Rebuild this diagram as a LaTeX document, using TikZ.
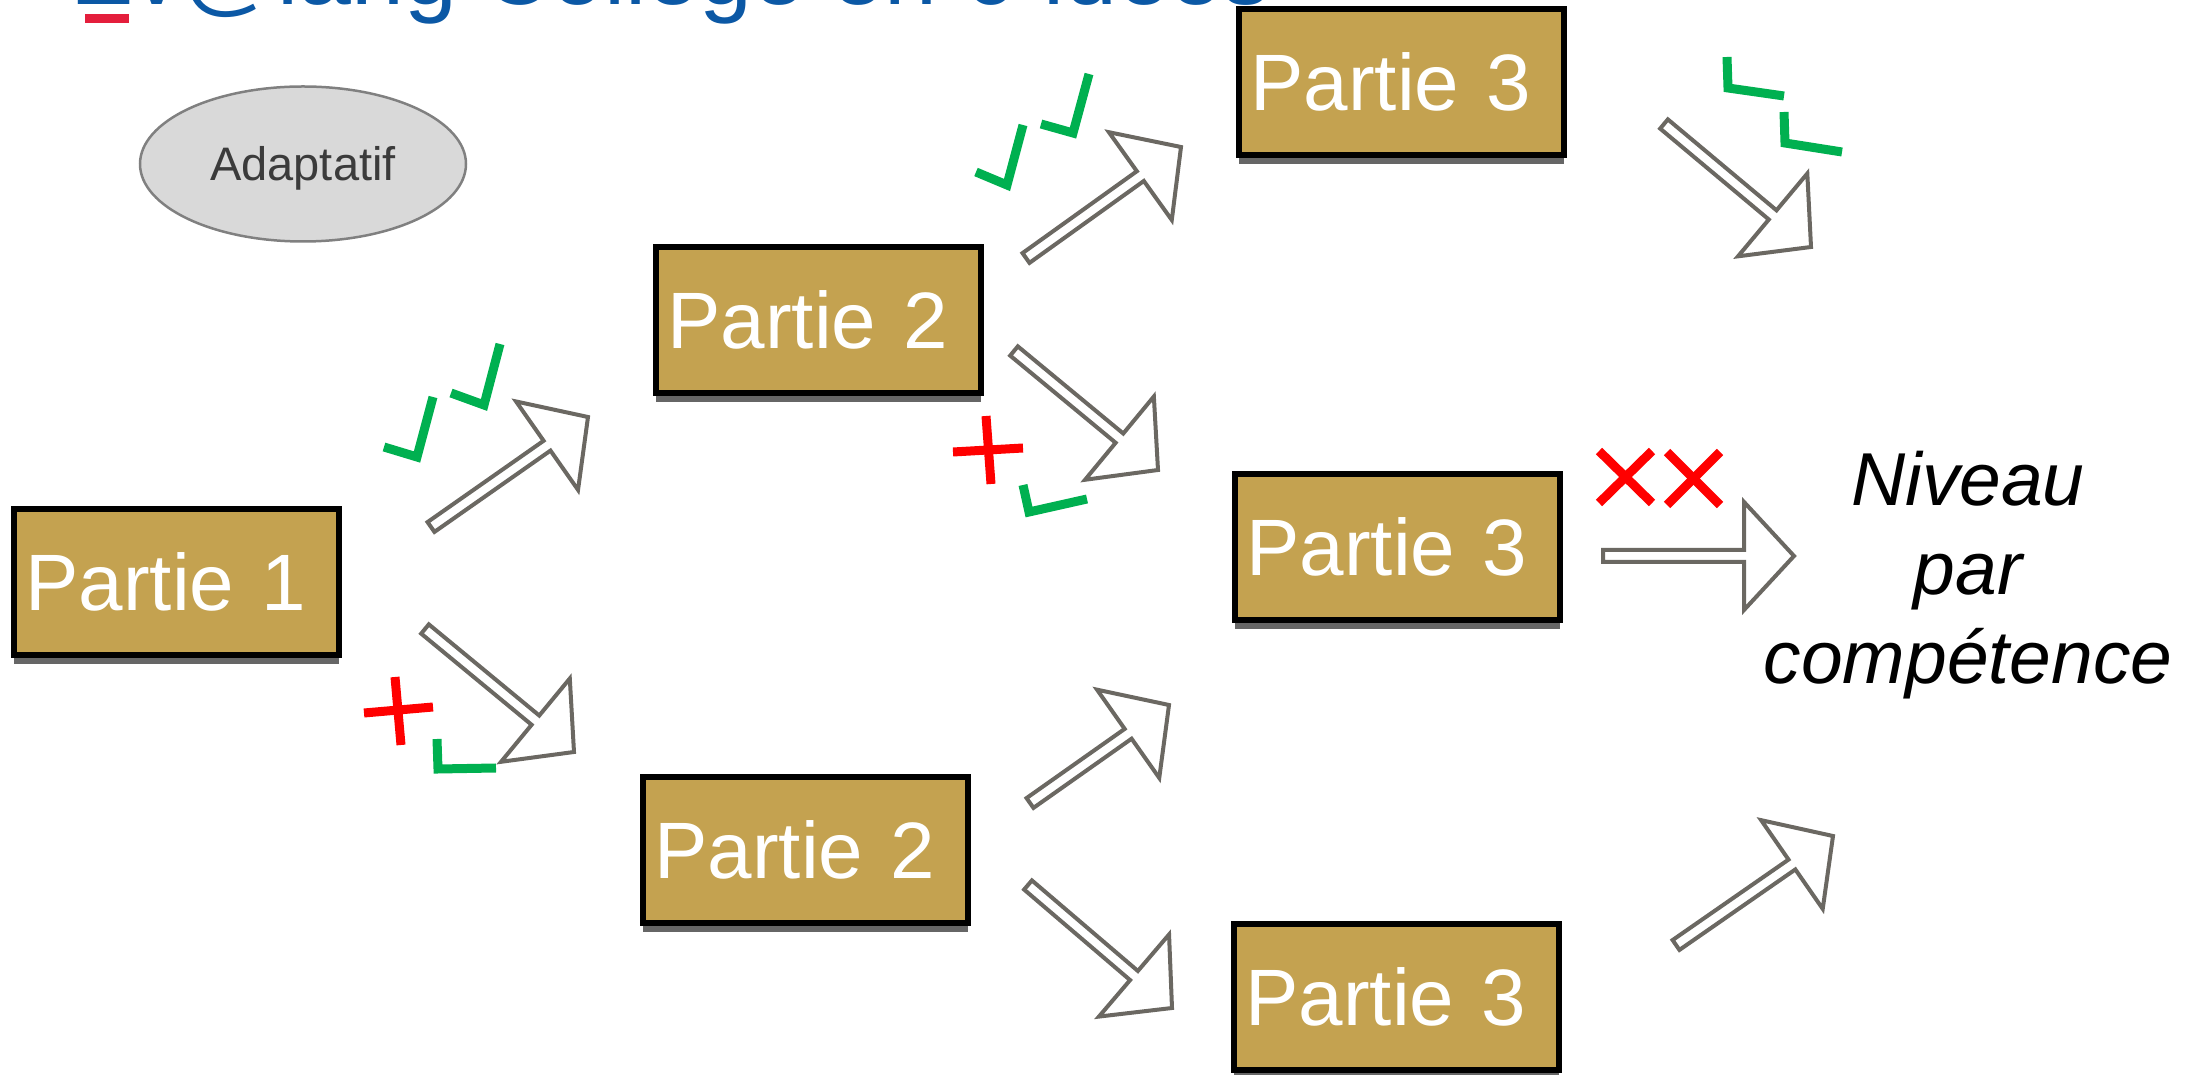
\documentclass[tikz,border=0pt]{standalone}
\usepackage{fontspec}
\setmainfont{Liberation Sans}
\usetikzlibrary{calc,shapes.geometric,shadows}
\definecolor{partgold}{RGB}{196,162,80}
\definecolor{arrowgray}{RGB}{107,104,98}
\definecolor{tickgreen}{RGB}{0,176,80}
\definecolor{titleblue}{RGB}{11,88,165}
\definecolor{flagred}{RGB}{228,30,60}
\definecolor{ovalgray}{RGB}{217,217,217}

\tikzset{
  partbox/.style={draw=black, line width=6pt, fill=partgold, text=white,
    minimum height=146pt, text width=301pt, inner xsep=12pt, inner ysep=0pt,
    align=left, font=\fontsize{80pt}{96pt}\selectfont, text height=57pt, text depth=0pt,
    drop shadow={shadow xshift=0pt, shadow yshift=-9pt, fill=black!60, opacity=1}},
  adaptoval/.style={ellipse, draw=black!50, line width=2.5pt, fill=ovalgray,
    minimum width=326pt, minimum height=155pt, inner sep=0pt, text=black!77,
    font=\fontsize{47pt}{56pt}\selectfont, text height=34pt, text depth=0pt},
  blockline/.style={draw=arrowgray, line width=4pt, fill=white},
  okmark/.style={draw=tickgreen, line width=9pt},
  nomark/.style={draw=red, line width=9pt},
}

% hollow block arrow from tail #1 to tip #2
\newcommand{\blockarrow}[2]{%
  \draw[blockline] let \p1=($(#2)-(#1)$), \n1={atan2(\y1,\x1)}, \n2={veclen(\x1,\y1)} in
    [shift={(#1)}, rotate=\n1]
    (0pt,-6pt) -- (\n2-50pt,-6pt) -- (\n2-50pt,-54pt) -- (\n2,0pt)
    -- (\n2-50pt,54pt) -- (\n2-50pt,6pt) -- (0pt,6pt) -- cycle;}

\begin{document}
\begin{tikzpicture}[x=1pt,y=1pt]
	\useasboundingbox (0,0) rectangle (2190,1074);
	\clip (0,0) rectangle (2190,1074);
	% title
	\node[anchor=base west, inner sep=0pt, text=titleblue, font=\fontsize{95pt}{110pt}\selectfont] (title) at (70,1069) {Ev@lang Collège en 6 idées};
	\fill[flagred] (85,1051) rectangle (129,1060);
	\node[adaptoval] (adapt) at (303,910) {Adaptatif};
	% parts
	\node[partbox] (part1) at (176,492) {Partie 1};
	\node[partbox] (part2a) at (818,754) {Partie 2};
	\node[partbox] (part2b) at (805,224) {Partie 2};
	\node[partbox] (part3a) at (1401,992) {Partie 3};
	\node[partbox] (part3b) at (1397,527) {Partie 3};
	\node[partbox] (part3c) at (1396,77) {Partie 3};
	\node[align=center, inner sep=0pt, font=\fontsize{75pt}{89pt}\selectfont\itshape] (niveau) at (1968,498.5) {Niveau\\par\\compétence};
	% arrow ends
	\coordinate (t1) at (431,547); \coordinate (h1) at (588,657);
	\coordinate (t2) at (425,445); \coordinate (h2) at (574,322);
	\coordinate (t3) at (1026,816); \coordinate (h3) at (1181,927);
	\coordinate (t4) at (1014,723); \coordinate (h4) at (1158,604);
	\coordinate (t5) at (1030,271); \coordinate (h5) at (1169,369);
	\coordinate (t6) at (1028,189); \coordinate (h6) at (1172,66);
	\coordinate (t7) at (1664,950); \coordinate (h7) at (1811,827);
	\coordinate (t8) at (1603,518); \coordinate (h8) at (1794,518);
	\coordinate (t9) at (1676,129); \coordinate (h9) at (1833,238);
	\foreach \k in {1,...,9} {\blockarrow{t\k}{h\k}}
	% marks
	\draw[okmark] (384,627) -- (417,617) -- (433,677);
	\draw[okmark] (451,681) -- (484,669) -- (500,730);
	\draw[nomark] (395,397) -- (401,329);
	\draw[nomark] (364,361) -- (433,367);
	\draw[okmark] (437,335) -- (438,305) -- (496,306);
	\draw[okmark] (976,902) -- (1007,889) -- (1023,949);
	\draw[okmark] (1041,950) -- (1073,941) -- (1089,1000);
	\draw[nomark] (986,658) -- (991,590);
	\draw[nomark] (953,622) -- (1023,626);
	\draw[okmark] (1023,589) -- (1029,562) -- (1087,575);
	\draw[okmark] (1727,1017) -- (1728,986) -- (1784,978);
	\draw[okmark] (1784,962) -- (1785,931) -- (1842,922);
	\draw[nomark] (1599,623) -- (1652,571);
	\draw[nomark] (1599,571) -- (1652,623);
	\draw[nomark] (1667,622) -- (1720,569);
	\draw[nomark] (1667,569) -- (1720,622);
\end{tikzpicture}
\end{document}
